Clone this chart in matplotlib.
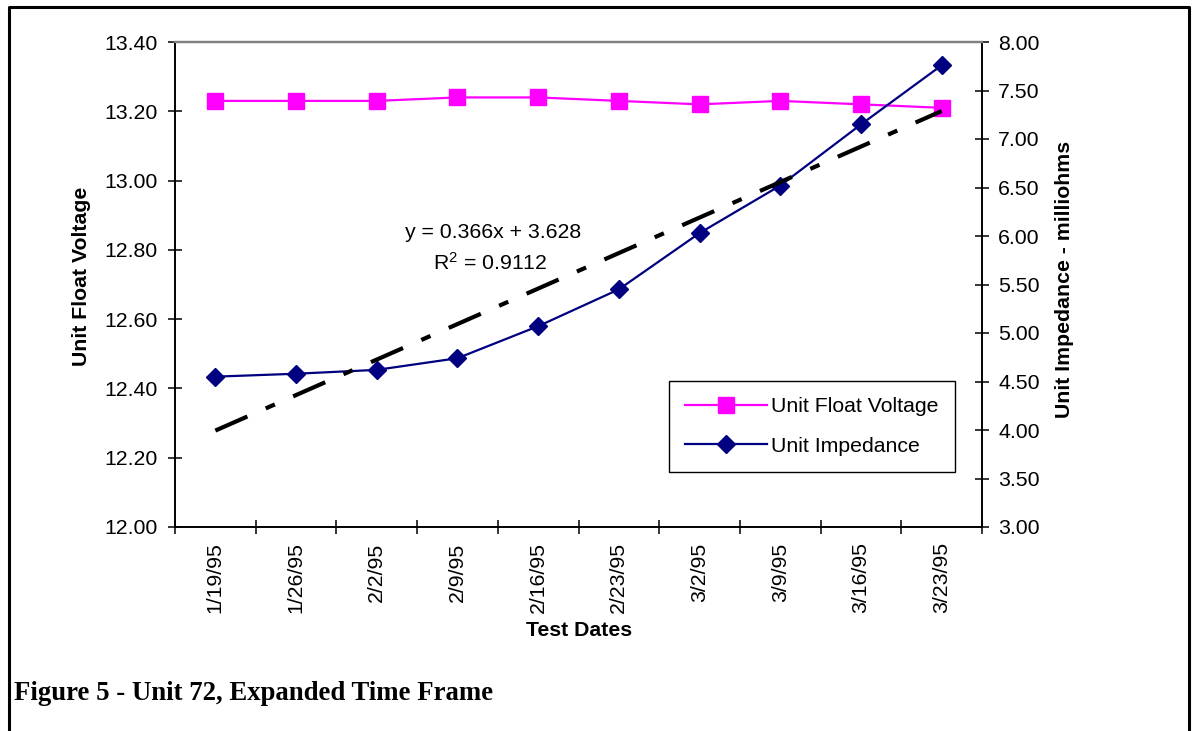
import numpy as np
import matplotlib
matplotlib.use("Agg")
import matplotlib.pyplot as plt
from matplotlib.lines import Line2D

plt.rcParams['font.family'] = ['Liberation Sans', 'DejaVu Sans']
plt.rcParams['mathtext.fontset'] = 'custom'
plt.rcParams['mathtext.rm'] = 'Liberation Sans'
plt.rcParams['mathtext.it'] = 'Liberation Sans:italic'

# Data
dates = ['1/19/95', '1/26/95', '2/2/95', '2/9/95', '2/16/95',
         '2/23/95', '3/2/95', '3/9/95', '3/16/95', '3/23/95']
float_voltage = [13.23, 13.23, 13.23, 13.24, 13.24, 13.23, 13.22, 13.23, 13.22, 13.21]
impedance = [4.55, 4.58, 4.62, 4.74, 5.07, 5.45, 6.03, 6.52, 7.15, 7.76]
trend_slope = 0.366
trend_icpt = 3.628
r_squared = 0.9112

fs = 15.3
x = np.arange(len(dates))

fig = plt.figure(figsize=(11.95, 7.31), dpi=100)
ax = fig.add_axes([175/1195, 1-527/731, (982-175)/1195, (527-42)/731])
ax2 = ax.twinx()

# left axis - voltage
l1, = ax.plot(x, float_voltage, color='#FF00FF', lw=1.6, marker='s', ms=11,
              label='Unit Float Voltage')
ax.set_xlim(-0.5, len(dates) - 0.5)
ax.set_ylim(12.0, 13.4)
ax.set_yticks(np.arange(12.0, 13.41, 0.2))
ax.set_yticklabels(['%.2f' % v for v in np.arange(12.0, 13.41, 0.2)], fontsize=fs)
ax.set_xticks(x)
ax.set_xticklabels(dates, rotation=90, fontsize=fs)
ax.set_xticks(np.arange(-0.5, len(dates)), minor=True)
ax.tick_params(axis='x', which='major', length=0, pad=11)
ax.tick_params(axis='x', which='minor', direction='inout', length=9.5, width=1.1)
ax.tick_params(axis='y', direction='inout', length=9.5, width=1.1, pad=7.5)

# right axis - impedance + trendline
l2, = ax2.plot(x, impedance, color='#000080', lw=1.6, marker='D', ms=9.5,
               label='Unit Impedance')
xt = x + 1
ax2.plot(x, trend_slope * xt + trend_icpt, color='black', lw=3,
         dashes=(8.4, 4.8, 2.4, 4.8))
ax2.set_ylim(3.0, 8.0)
ax2.set_yticks(np.arange(3.0, 8.01, 0.5))
ax2.set_yticklabels(['%.2f' % v for v in np.arange(3.0, 8.01, 0.5)], fontsize=fs)
ax2.tick_params(axis='y', direction='inout', length=9.5, width=1.1, pad=7)

for a in (ax, ax2):
    for s in ('left', 'bottom', 'right'):
        a.spines[s].set_color('black')
        a.spines[s].set_linewidth(1.2)
    a.spines['top'].set_color('#808080')
    a.spines['top'].set_linewidth(1.6)

fig.text(82/1195, 1-276/731, 'Unit Float Voltage', rotation=90, fontsize=fs,
         fontweight='bold', ha='center', va='center')
fig.text(1064/1195, 1-279/731, 'Unit Impedance - milliohms', rotation=90,
         fontsize=fs, fontweight='bold', ha='center', va='center')
fig.text(579/1195, 1-631/731, 'Test Dates', fontsize=fs, fontweight='bold',
         ha='center', va='center')

fig.text(493/1195, 1-238/731, 'y = %.3fx + %.3f' % (trend_slope, trend_icpt),
         fontsize=fs, ha='center', va='baseline')
fig.text(490/1195, 1-270/731, r'R$^{\mathrm{2}}$ = %.4f' % r_squared,
         fontsize=fs, ha='center', va='baseline')

leg = ax2.legend(handles=[l1, l2], loc='center', fontsize=fs,
                 bbox_to_anchor=(812/1195, 1-426.5/731),
                 bbox_transform=fig.transFigure, fancybox=False,
                 edgecolor='black', framealpha=1, handlelength=3.86,
                 handletextpad=0.2, labelspacing=0.95, borderpad=0.75)
leg.get_frame().set_linewidth(1.0)

fig.text(14/1195, 1-700/731, 'Figure 5 - Unit 72, Expanded Time Frame',
         family='Liberation Serif', fontweight='bold', fontsize=19.3,
         ha='left', va='baseline')

# page border (left, top, right)
fig.add_artist(Line2D([8.5/1195, 8.5/1195, 1189/1195, 1189/1195],
                      [0, 1-7/731, 1-7/731, 0], transform=fig.transFigure,
                      color='black', lw=2.2))

fig.savefig('out.png', dpi=100)
